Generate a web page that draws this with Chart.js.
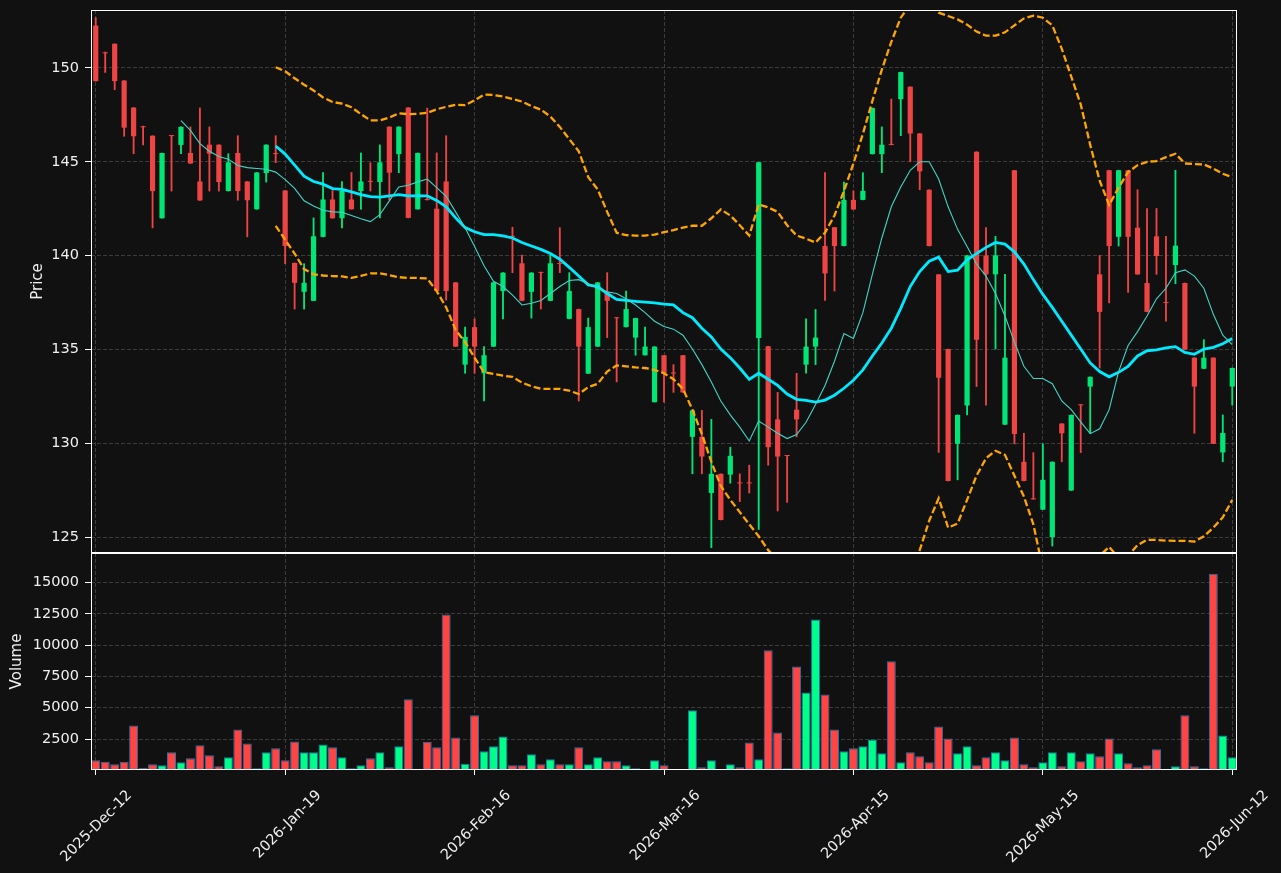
<!DOCTYPE html>
<html>
<head>
<meta charset="utf-8">
<script src="https://cdn.jsdelivr.net/npm/chart.js@4.4.1/dist/chart.umd.min.js"></script>
<style>
  html, body { margin: 0; padding: 0; background: #111111; overflow: hidden; }
  #wrap { position: relative; width: 1281px; height: 873px; }
  canvas { position: absolute; left: 0; }
  #price-chart { top: 0; }
  #volume-chart { top: 548px; }
</style>
</head>
<body>
<div id="wrap">
  <canvas id="price-chart" width="1281" height="554"></canvas>
  <canvas id="volume-chart" width="1281" height="325"></canvas>
</div>
<script>
// Tick labels on the date axis (one every 20 sessions)
const tickDates = ['2025-Dec-12', '2026-Jan-19', '2026-Feb-16', '2026-Mar-16', '2026-Apr-15', '2026-May-15', '2026-Jun-12'];
const tickEvery = 20;
const priceTicks = [125, 130, 135, 140, 145, 150];
const volumeTicks = [2500, 5000, 7500, 10000, 12500, 15000];

// OHLC per session
const openP = [152.26,150.82,151.29,149.33,147.89,146.88,146.39,141.99,146.40,145.90,
  145.47,143.95,145.91,145.91,143.44,145.47,143.95,142.47,144.40,145.45,
  143.47,139.61,138.07,137.59,141.00,142.99,141.99,142.99,143.44,143.96,
  143.92,146.87,145.41,147.89,142.47,142.98,142.50,143.95,138.57,134.19,
  136.19,133.73,135.15,138.11,141.02,139.59,138.07,139.10,137.59,139.57,
  136.63,137.15,133.71,135.15,138.07,136.68,136.19,135.63,134.69,132.19,
  134.69,133.74,134.69,130.34,130.34,127.35,128.37,128.33,127.88,127.88,
  135.61,135.17,131.27,129.34,131.79,134.19,135.15,140.51,141.51,140.51,
  142.97,142.97,145.41,145.41,145.92,148.34,149.00,146.51,143.51,139.00,
  135.02,129.97,132.01,145.54,140.01,139.00,130.99,144.55,129.01,127.03,
  126.46,125.00,131.05,127.48,132.04,133.02,139.00,144.55,141.00,144.55,
  141.49,138.54,141.03,137.49,139.50,138.54,134.56,133.97,134.56,129.51,
  133.02];
const highP = [152.68,150.85,151.29,149.33,147.89,146.90,146.39,145.47,146.40,146.86,
  146.86,147.87,146.86,145.91,145.43,146.39,143.95,144.43,145.91,146.39,
  143.47,139.61,139.57,142.01,144.43,143.47,143.95,144.43,145.47,144.95,
  145.90,146.87,146.87,147.89,145.47,147.86,145.47,146.39,138.57,136.19,
  136.63,135.15,138.57,139.09,141.51,140.03,139.09,139.12,140.03,141.49,
  139.09,137.15,136.67,138.57,139.09,136.70,138.11,136.67,136.19,135.15,
  134.69,134.19,134.69,131.75,131.75,131.27,128.37,129.79,128.37,128.83,
  144.97,135.17,132.71,129.35,133.73,136.63,137.13,144.42,141.51,143.92,
  143.45,144.42,147.87,146.86,148.34,149.78,149.00,146.51,143.51,139.00,
  135.02,131.51,140.01,145.54,141.49,141.03,139.00,144.55,130.53,129.50,
  129.97,129.01,131.05,131.51,132.05,133.54,140.01,144.55,144.55,144.55,
  143.51,142.51,142.51,141.03,144.55,138.54,134.56,135.52,134.56,131.51,
  134.01];
const lowP = [149.30,149.76,148.84,146.36,145.43,145.90,141.48,141.99,143.44,145.43,
  144.91,142.94,143.44,143.44,143.44,142.95,141.00,142.47,143.92,144.95,
  139.57,137.15,137.15,137.59,141.00,141.99,141.48,142.47,142.47,143.44,
  142.01,142.97,144.42,142.01,142.47,142.96,138.11,137.63,135.15,133.73,
  133.73,132.25,135.15,136.63,139.09,137.59,136.67,137.15,137.59,139.09,
  136.63,132.25,133.71,135.15,135.63,133.27,136.19,134.69,134.69,132.19,
  132.19,132.71,132.71,128.37,128.37,124.43,125.91,127.87,126.89,127.35,
  125.41,128.83,126.39,126.85,130.34,133.73,134.19,137.61,138.11,140.51,
  142.46,142.97,145.41,144.42,145.90,146.39,145.00,143.51,140.51,129.51,
  127.99,128.05,131.51,133.02,132.03,135.02,130.99,129.97,127.99,127.01,
  126.46,124.52,129.01,127.48,129.50,130.53,134.01,137.48,140.51,138.04,
  139.00,137.00,139.00,136.50,138.50,134.99,130.53,133.97,129.97,129.01,
  132.03];
const closeP = [149.30,150.78,149.30,146.82,146.36,146.84,143.44,145.47,146.37,146.86,
  144.91,142.94,145.43,143.92,144.97,143.44,142.95,144.43,145.91,145.41,
  140.51,138.55,138.55,141.03,142.99,141.99,143.47,142.47,143.95,143.93,
  144.97,144.42,146.87,142.01,145.47,142.96,138.11,138.11,135.15,135.67,
  135.15,134.69,138.57,139.09,141.00,137.59,139.09,139.08,139.59,139.55,
  138.11,135.15,136.19,138.57,137.59,136.66,137.15,136.67,135.15,135.15,
  133.73,133.72,132.71,131.75,129.29,128.37,125.91,129.33,127.86,127.86,
  144.97,129.79,129.29,129.32,131.27,135.15,135.63,139.05,140.51,142.97,
  142.46,143.45,147.87,145.91,145.90,149.78,146.51,144.49,140.51,133.49,
  127.99,131.51,140.01,135.52,139.00,140.01,134.56,130.49,127.99,127.01,
  128.05,129.01,130.53,131.51,132.02,133.54,137.00,140.51,144.55,141.00,
  139.00,137.00,139.98,137.47,140.53,134.99,133.02,134.56,129.97,130.55,
  134.01];

// Volume per session
const volume = [800,690,480,690,3590,210,480,400,1440,640,
  960,2000,1200,320,1040,3270,2150,160,1440,1760,
  800,2310,1440,1440,2070,1840,1040,160,400,960,
  1440,240,1920,5670,50,2290,1840,12450,2630,530,
  4390,1520,1920,2710,400,400,1280,480,880,480,
  480,1840,480,1040,720,720,400,160,50,800,
  400,50,50,4790,240,800,50,480,240,2230,
  880,9580,3030,160,8300,6220,12050,6060,3270,1520,
  1760,1920,2470,1360,8700,640,1440,1120,640,3510,
  2550,1360,1920,400,1040,1440,800,2630,480,240,
  640,1440,320,1440,720,1360,1120,2550,1360,560,
  240,400,1680,50,320,4390,320,160,15690,2790,
  1040];

// Short moving average (thin line)
const maShort = [null,null,null,null,null,null,null,null,null,147.19,
  146.67,145.97,145.56,145.28,145.14,144.80,144.69,144.64,144.60,144.45,
  144.05,143.58,142.92,142.64,142.42,142.33,142.31,142.14,141.96,141.81,
  142.18,142.92,143.66,143.75,143.93,144.08,143.62,143.16,142.33,141.49,
  140.48,139.46,138.63,138.35,137.89,137.37,137.46,137.61,137.98,138.35,
  138.67,138.72,138.50,138.26,138.07,137.98,137.70,137.37,136.96,136.50,
  136.22,136.08,135.76,135.02,134.19,133.27,132.25,131.51,130.86,130.12,
  131.18,130.86,130.53,130.25,130.46,131.12,132.06,133.08,134.37,135.85,
  135.58,136.96,139.00,140.94,142.60,143.66,144.55,145.00,145.00,144.08,
  142.60,141.40,140.48,139.55,138.91,137.98,136.78,135.39,134.10,133.45,
  133.45,133.17,132.25,131.79,131.14,130.51,130.77,131.79,133.82,135.21,
  135.95,136.78,137.70,138.26,139.09,139.24,138.91,138.26,136.87,135.76,
  135.26];

// Long moving average (thick line)
const maLong = [null,null,null,null,null,null,null,null,null,null,
  null,null,null,null,null,null,null,null,null,145.84,
  145.41,144.82,144.23,143.95,143.81,143.57,143.53,143.40,143.25,143.14,
  143.12,143.18,143.25,143.18,143.18,143.18,142.94,142.60,142.01,141.49,
  141.27,141.12,141.12,141.05,140.94,140.70,140.51,140.33,140.11,139.81,
  139.37,138.91,138.44,138.35,137.98,137.67,137.61,137.56,137.52,137.48,
  137.42,137.37,136.96,136.69,136.13,135.67,135.02,134.56,134.01,133.40,
  133.73,133.41,133.08,132.62,132.34,132.29,132.19,132.30,132.56,132.93,
  133.36,133.91,134.65,135.34,136.13,137.19,138.35,139.15,139.70,139.92,
  139.15,139.22,139.77,140.11,140.44,140.70,140.61,140.20,139.55,138.72,
  137.93,137.24,136.50,135.76,135.02,134.28,133.82,133.54,133.78,134.10,
  134.65,134.93,134.97,135.08,135.15,134.84,134.74,135.02,135.11,135.30,
  135.58];

// Upper and lower bands (dashed)
const bandUpper = [null,null,null,null,null,null,null,null,null,null,
  null,null,null,null,null,null,null,null,null,150.04,
  149.82,149.45,149.11,148.80,148.43,148.19,148.10,147.91,147.54,147.21,
  147.21,147.36,147.58,147.54,147.56,147.61,147.80,147.93,148.04,148.02,
  148.28,148.58,148.56,148.48,148.35,148.21,147.97,147.78,147.41,146.86,
  146.21,145.56,144.18,143.53,142.33,141.22,141.09,141.07,141.07,141.12,
  141.25,141.36,141.49,141.59,141.59,141.99,142.46,142.14,141.62,141.07,
  142.73,142.57,142.33,141.62,141.07,140.90,140.70,141.22,142.14,143.44,
  144.91,146.49,148.24,149.91,151.39,152.68,153.40,153.60,153.40,152.95,
  152.77,152.59,152.31,151.94,151.72,151.72,151.90,152.27,152.64,152.79,
  152.68,152.27,151.02,149.54,148.06,145.90,143.99,142.70,143.62,144.45,
  144.82,145.00,145.04,145.25,145.43,144.91,144.88,144.86,144.64,144.36,
  144.18];
const bandLower = [null,null,null,null,null,null,null,null,null,null,
  null,null,null,null,null,null,null,null,null,141.59,
  140.85,140.11,139.28,139.00,138.94,138.91,138.89,138.81,138.92,139.05,
  139.05,138.96,138.85,138.81,138.81,138.78,138.11,137.24,136.04,135.39,
  134.56,133.78,133.69,133.60,133.54,133.23,133.04,132.90,132.90,132.90,
  132.80,132.62,132.99,133.17,133.82,134.15,134.10,134.04,134.01,133.91,
  133.73,133.41,132.90,131.79,130.49,129.01,127.72,126.98,126.33,125.68,
  125.04,124.30,123.80,123.60,123.60,123.60,123.70,123.40,123.00,122.40,
  121.80,121.30,121.10,120.80,120.90,121.70,123.30,124.30,125.87,127.07,
  125.50,125.72,126.98,128.27,129.20,129.60,129.38,128.27,127.16,125.68,
  123.30,122.20,122.00,122.00,122.00,122.70,124.00,124.48,123.90,124.00,
  124.57,124.85,124.85,124.81,124.80,124.80,124.76,125.04,125.50,126.05,
  126.98];

const upColor = '#00e676';
const downColor = '#ee4444';
const volUp = '#00ff88';
const volDown = '#ff4444';
const gridColor = '#3c3c3c';
const textColor = '#f0f0f0';

Chart.defaults.font.family = 'DejaVu Sans';
Chart.defaults.font.size = 14.5;
Chart.defaults.color = textColor;

const labels = closeP.map((_, i) => String(i));
const isUp = closeP.map((c, i) => c >= openP[i]);

// white box around each plot area
const framePlugin = {
  id: 'frame',
  afterDraw(chart) {
    const a = chart.chartArea;
    const ctx = chart.ctx;
    ctx.save();
    ctx.strokeStyle = '#ffffff';
    ctx.lineWidth = 1;
    ctx.strokeRect(Math.round(a.left) + 0.5, Math.round(a.top) + 0.5,
      Math.round(a.right - a.left) - 1, Math.round(a.bottom - a.top) - 1);
    ctx.restore();
  }
};

// keep the plot areas exactly where the reference has them
function noPadding(s) {
  s.paddingTop = 0;
  s.paddingBottom = 0;
  s.paddingLeft = 0;
  s.paddingRight = 0;
}

const xGrid = {
  offset: false,
  color: c => c.index % tickEvery === 0 ? gridColor : 'rgba(0,0,0,0)',
  tickColor: c => c.index % tickEvery === 0 ? '#ffffff' : 'rgba(0,0,0,0)',
  tickLength: 5,
  lineWidth: 1
};

const yGrid = { color: gridColor, tickColor: '#ffffff', tickLength: 6, tickBorderDash: [] };

// Price panel
new Chart(document.getElementById('price-chart'), {
  type: 'bar',
  data: {
    labels: labels,
    datasets: [
      {
        label: 'Upper', type: 'line', data: bandUpper, borderColor: '#ffa500',
        borderWidth: 2.3, borderDash: [7, 3], pointRadius: 0, order: -1
      },
      {
        label: 'Lower', type: 'line', data: bandLower, borderColor: '#ffa500',
        borderWidth: 2.3, borderDash: [7, 3], pointRadius: 0, order: -1
      },
      {
        label: 'MA long', type: 'line', data: maLong, borderColor: '#00eaff',
        borderWidth: 2.8, pointRadius: 0, order: -2
      },
      {
        label: 'MA short', type: 'line', data: maShort, borderColor: '#3fd6c6',
        borderWidth: 1.1, pointRadius: 0, order: -3
      },
      {
        label: 'Body', data: openP.map((o, i) => [o, closeP[i]]),
        backgroundColor: isUp.map(u => u ? upColor : downColor),
        grouped: false, categoryPercentage: 1, barPercentage: 0.55,
        minBarLength: 1, order: 1
      },
      {
        label: 'Wick', data: lowP.map((l, i) => [l, highP[i]]),
        backgroundColor: isUp.map(u => u ? upColor : downColor),
        grouped: false, barThickness: 1.2, order: 2
      }
    ]
  },
  options: {
    responsive: false,
    devicePixelRatio: 1,
    animation: false,
    layout: { padding: { top: 10, right: 44, bottom: 1, left: 0 } },
    plugins: { legend: { display: false }, tooltip: { enabled: false } },
    scales: {
      x: {
        offset: true,
        grid: Object.assign({}, xGrid, { drawTicks: false }),
        border: { display: false, dash: [4, 2] },
        ticks: { display: false, autoSkip: false },
        afterFit: s => { s.height = 0; noPadding(s); }
      },
      y: {
        min: 124.15,
        max: 153.09,
        grid: yGrid,
        border: { display: false, dash: [4, 2] },
        afterBuildTicks: s => { s.ticks = priceTicks.map(v => ({ value: v })); },
        ticks: { padding: 6, callback: v => String(v) },
        title: { display: true, text: 'Price', font: { size: 15 }, color: textColor, padding: { top: 29, bottom: 0 } },
        afterFit: s => { s.width = 91; noPadding(s); }
      }
    }
  },
  plugins: [framePlugin]
});

// Volume panel
new Chart(document.getElementById('volume-chart'), {
  type: 'bar',
  data: {
    labels: labels,
    datasets: [{
      label: 'Volume',
      data: volume,
      backgroundColor: isUp.map(u => u ? volUp : volDown),
      borderColor: '#1f77b4',
      borderWidth: 1,
      borderSkipped: false,
      grouped: false,
      categoryPercentage: 1,
      barPercentage: 0.95
    }]
  },
  options: {
    responsive: false,
    devicePixelRatio: 1,
    animation: false,
    layout: { padding: { top: 5, right: 44, bottom: 0, left: 0 } },
    plugins: { legend: { display: false }, tooltip: { enabled: false } },
    scales: {
      x: {
        offset: true,
        grid: xGrid,
        border: { display: false, dash: [4, 2] },
        ticks: {
          autoSkip: false, minRotation: 45, maxRotation: 45,
          padding: 12, labelOffset: 34, color: textColor,
          callback: (v, i) => i % tickEvery === 0 ? tickDates[i / tickEvery] : ''
        },
        afterFit: s => { s.height = 103; noPadding(s); }
      },
      y: {
        min: 30,
        max: 17350,
        grid: yGrid,
        border: { display: false, dash: [4, 2] },
        afterBuildTicks: s => { s.ticks = volumeTicks.map(v => ({ value: v })); },
        ticks: { padding: 6, callback: v => String(v) },
        title: { display: true, text: 'Volume', font: { size: 15 }, color: textColor, padding: { top: 8, bottom: 0 } },
        afterFit: s => { s.width = 91; noPadding(s); }
      }
    }
  },
  plugins: [framePlugin]
});
</script>
</body>
</html>
